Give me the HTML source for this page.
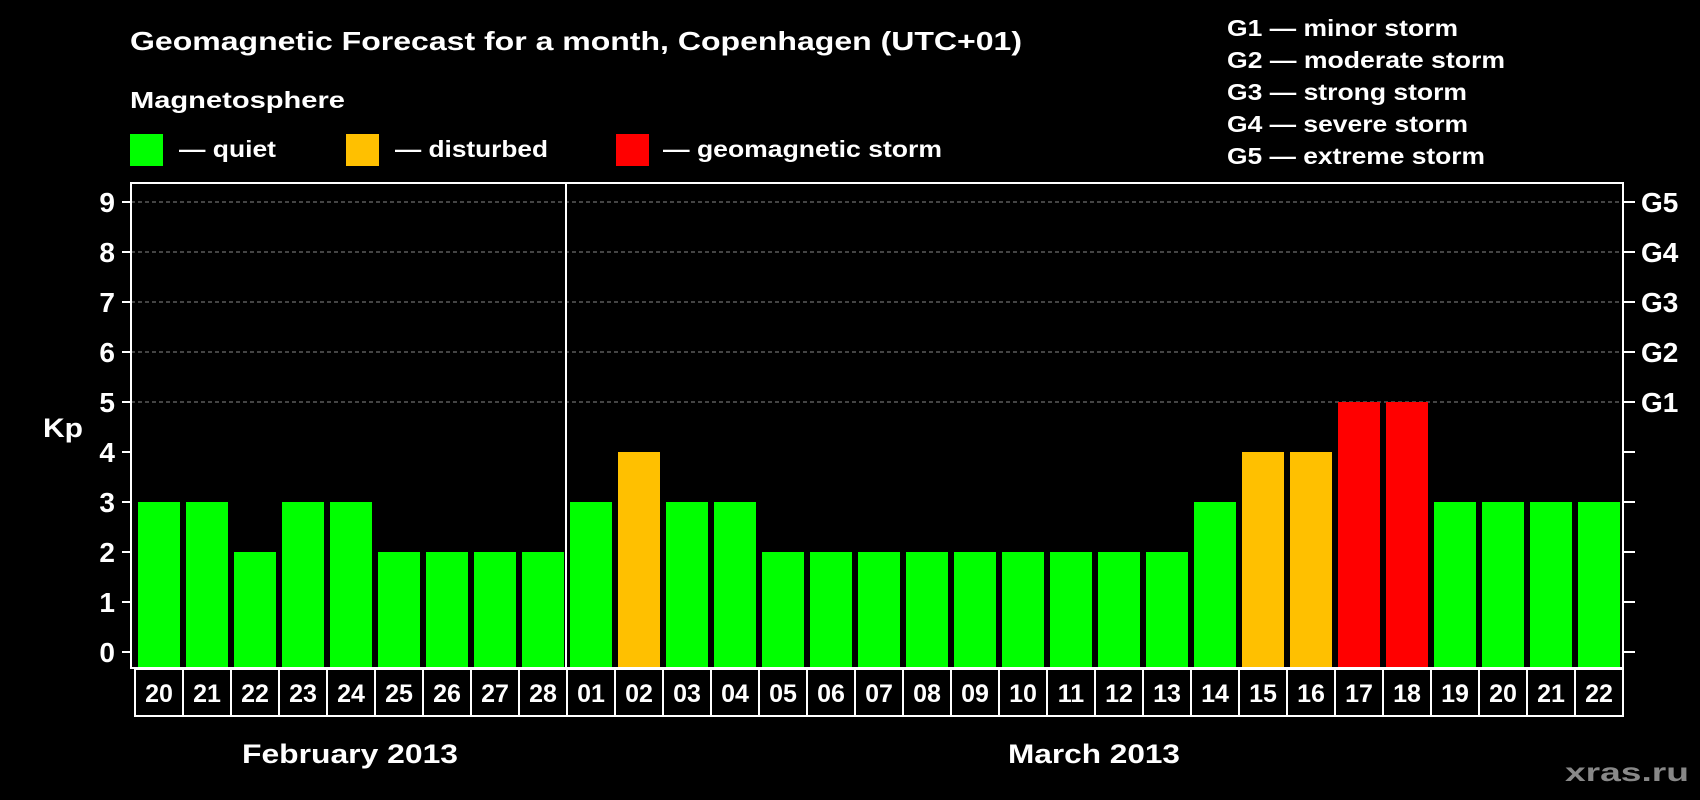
<!DOCTYPE html>
<html><head><meta charset="utf-8"><style>
html,body{margin:0;padding:0;background:#000;}
svg{display:block;font-family:"Liberation Sans",Arial,sans-serif;font-weight:bold;}
</style></head><body>
<svg id="chart" width="1700" height="800" viewBox="0 0 1700 800">
<rect width="1700" height="800" fill="#000"/>
<text x="130" y="50" fill="#fff" font-size="26" textLength="892" lengthAdjust="spacingAndGlyphs">Geomagnetic Forecast for a month, Copenhagen (UTC+01)</text>
<text x="130" y="108" fill="#fff" font-size="23" textLength="215" lengthAdjust="spacingAndGlyphs">Magnetosphere</text>
<g><rect x="130" y="134" width="33" height="32" fill="#00ff00"/><text x="179" y="157" fill="#fff" font-size="23" textLength="97" lengthAdjust="spacingAndGlyphs">— quiet</text></g>
<g><rect x="346" y="134" width="33" height="32" fill="#ffc000"/><text x="395" y="157" fill="#fff" font-size="23" textLength="153" lengthAdjust="spacingAndGlyphs">— disturbed</text></g>
<g><rect x="616" y="134" width="33" height="32" fill="#ff0000"/><text x="663" y="157" fill="#fff" font-size="23" textLength="279" lengthAdjust="spacingAndGlyphs">— geomagnetic storm</text></g>
<g fill="#fff" font-size="23">
<text x="1227" y="36" textLength="231" lengthAdjust="spacingAndGlyphs">G1 — minor storm</text>
<text x="1227" y="68" textLength="278" lengthAdjust="spacingAndGlyphs">G2 — moderate storm</text>
<text x="1227" y="100" textLength="240" lengthAdjust="spacingAndGlyphs">G3 — strong storm</text>
<text x="1227" y="132" textLength="241" lengthAdjust="spacingAndGlyphs">G4 — severe storm</text>
<text x="1227" y="164" textLength="258" lengthAdjust="spacingAndGlyphs">G5 — extreme storm</text>
</g>
<text x="43" y="437" fill="#fff" font-size="27" textLength="40" lengthAdjust="spacingAndGlyphs">Kp</text>
<text x="242" y="763" fill="#fff" font-size="27" textLength="216" lengthAdjust="spacingAndGlyphs">February 2013</text>
<text x="1008" y="763" fill="#fff" font-size="27" textLength="172" lengthAdjust="spacingAndGlyphs">March 2013</text>
<text x="1565" y="781" fill="#888" font-size="26" textLength="124" lengthAdjust="spacingAndGlyphs">xras.ru</text>
<g id="grid"></g><g id="bars"></g><g id="axes"></g>
</svg>
<script>
const days = ["20","21","22","23","24","25","26","27","28","01","02","03","04","05","06","07","08","09","10","11","12","13","14","15","16","17","18","19","20","21","22"];
const kpValues = [3,3,2,3,3,2,2,2,2,3,4,3,3,2,2,2,2,2,2,2,2,2,3,4,4,5,5,3,3,3,3];
const yTicks = [0,1,2,3,4,5,6,7,8,9];
const gLabels = ["G1","G2","G3","G4","G5"];
const monthSplit = 9;

const NS = "http://www.w3.org/2000/svg";
const boxL = 135, pitch = 48, plotTop = 183, plotBottom = 668, plotL = 131, plotR = 1623;
const y0 = 652, unit = 50;
function yScale(v){ return y0 - v*unit; }
function xScale(i){ return boxL + i*pitch; }
function mk(tag, attrs, parent){ const e=document.createElementNS(NS,tag); for(const k in attrs) e.setAttribute(k,attrs[k]); parent.appendChild(e); return e; }
const grid=document.getElementById('grid'), bars=document.getElementById('bars'), axes=document.getElementById('axes');

yTicks.forEach(v=>{
  const y=yScale(v);
  if(v>=5){
    const gl=mk('line',{x1:plotL,x2:plotR,y1:y,y2:y,stroke:'#888','stroke-dasharray':'4,3','stroke-width':1},grid);
    
    
  }
  const t=mk('line',{x1:122,x2:plotL,y1:y,y2:y,stroke:'#fff','stroke-width':2},axes);
  
  
  const tr=mk('line',{x1:plotR,x2:1635,y1:y,y2:y,stroke:'#fff','stroke-width':2},axes);
  
  
  const lb=mk('text',{x:115,y:y+10,fill:'#fff','font-size':28,'text-anchor':'end'},axes);
  lb.textContent=v;
  
  
});
gLabels.forEach((g,i)=>{
  const lb=mk('text',{x:1641,y:yScale(5+i)+10,fill:'#fff','font-size':28},axes);
  lb.textContent=g;
  
  
});
kpValues.forEach((v,i)=>{
  const col = v>=5 ? '#ff0000' : (v>=4 ? '#ffc000' : '#00ff00');
  const b=mk('rect',{x:xScale(i)+3,y:yScale(v),width:42,height:plotBottom-yScale(v),fill:col},bars);
  
  
  const box=mk('rect',{x:xScale(i),y:669,width:pitch,height:47,fill:'none',stroke:'#fff','stroke-width':2},axes);
  
  
  const t=mk('text',{x:xScale(i)+pitch/2,y:702,fill:'#fff','font-size':25,'text-anchor':'middle'},axes);
  t.textContent=days[i];
  
  
});
const frame=mk('rect',{x:plotL,y:plotTop,width:plotR-plotL,height:plotBottom-plotTop,fill:'none',stroke:'#fff','stroke-width':2},axes);


const sx=xScale(monthSplit)-1;
const sep=mk('line',{x1:sx,x2:sx,y1:plotTop,y2:plotBottom,stroke:'#fff','stroke-width':2},axes);


</script>
</body></html>
